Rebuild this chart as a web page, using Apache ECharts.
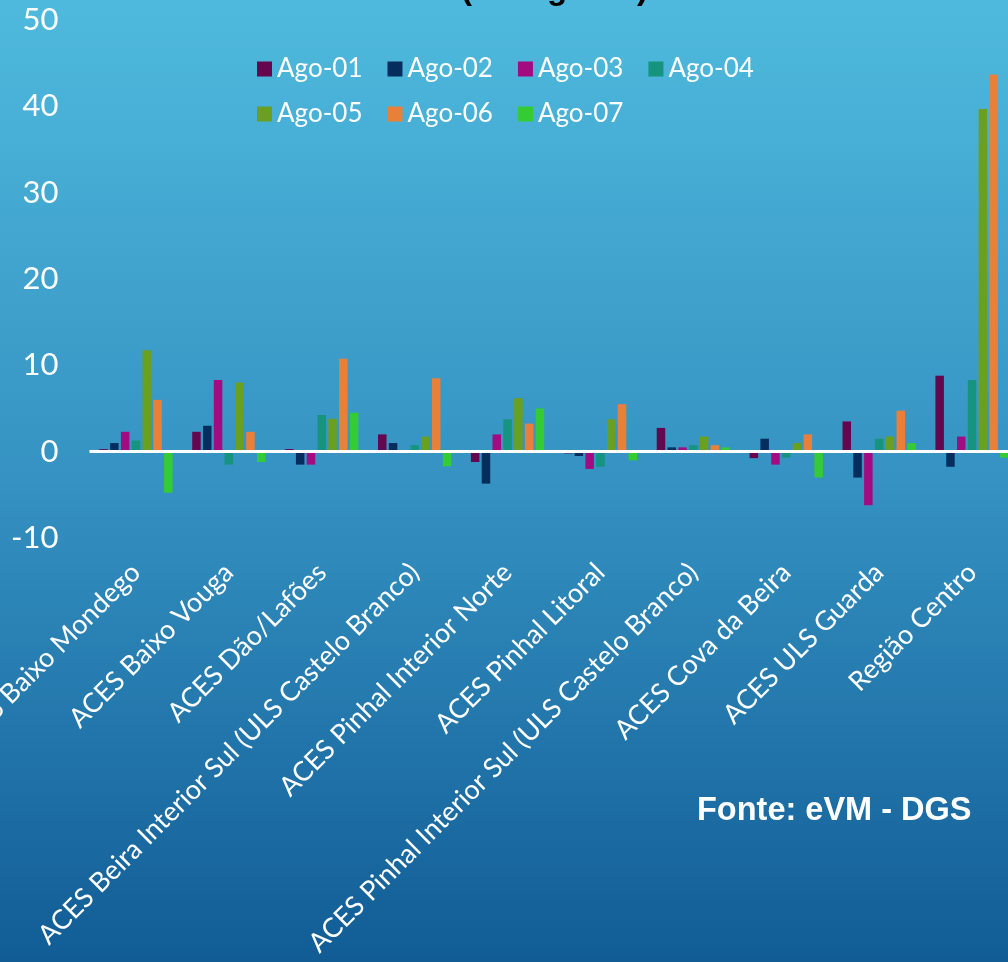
<!DOCTYPE html>
<html>
<head>
<meta charset="utf-8">
<script src="https://cdn.jsdelivr.net/npm/echarts@6/dist/echarts.min.js"></script>
<style>
html,body{margin:0;padding:0;width:1008px;height:962px;overflow:hidden;}
#chart{width:1008px;height:962px;}
</style>
</head>
<body>
<div id="chart"></div>
<script>
const categories = [
  "ACES Baixo Mondego",
  "ACES Baixo Vouga",
  "ACES Dão/Lafões",
  "ACES Beira Interior Sul (ULS Castelo Branco)",
  "ACES Pinhal Interior Norte",
  "ACES Pinhal Litoral",
  "ACES Pinhal Interior Sul (ULS Castelo Branco)",
  "ACES Cova da Beira",
  "ACES ULS Guarda",
  "Região Centro"
];
const seriesNames = ["Ago-01","Ago-02","Ago-03","Ago-04","Ago-05","Ago-06","Ago-07"];
const ago01 = [0.3, 2.3, 0.3, 2.0, -1.2, -0.2, 2.75, -0.75, 3.5, 8.8];
const ago02 = [1.0, 3.0, -1.5, 1.0, -3.7, -0.5, 0.5, 1.5, -3.0, -1.75];
const ago03 = [2.3, 8.3, -1.5, 0, 2.0, -2.0, 0.5, -1.5, -6.2, 1.75];
const ago04 = [1.3, -1.5, 4.25, 0.75, 3.75, -1.75, 0.75, -0.7, 1.5, 8.3];
const ago05 = [11.75, 8.0, 3.8, 1.75, 6.2, 3.75, 1.75, 1.0, 1.75, 39.7];
const ago06 = [6.0, 2.3, 10.75, 8.5, 3.25, 5.5, 0.75, 2.0, 4.75, 43.7];
const ago07 = [-4.75, -1.2, 4.5, -1.7, 5.0, -1.0, 0.5, -3.0, 1.0, -0.7];
const yTicks = [-10, 0, 10, 20, 30, 40, 50];
const colors = ["#65074f","#052e5f","#a30c80","#169480","#6a9f21","#e98039","#35cb34"];

const allData = [ago01, ago02, ago03, ago04, ago05, ago06, ago07];
const series = seriesNames.map((n, i) => {
  const s = {
    name: n,
    type: 'bar',
    data: allData[i],
    barWidth: 8.5,
    barGap: '27%',
    itemStyle: { color: colors[i] }
  };
  if (i === 0) {
    s.markLine = {
      silent: true,
      symbol: 'none',
      label: { show: false },
      lineStyle: { color: '#ffffff', width: 3, type: 'solid' },
      data: [{ yAxis: 0 }]
    };
  }
  return s;
});

const chart = echarts.init(document.getElementById('chart'));
const legendText = { color: '#ffffff', fontSize: 26, fontFamily: 'Lato' };
chart.setOption({
  animation: false,
  backgroundColor: {
    type: 'linear', x: 0, y: 0, x2: 0, y2: 1,
    colorStops: [
      { offset: 0, color: '#4fbadd' },
      { offset: 0.5, color: '#3592c2' },
      { offset: 1, color: '#115c95' }
    ]
  },
  color: colors,
  legend: [
    {
      data: seriesNames.slice(0, 4),
      left: 257, top: 56, padding: 0,
      itemWidth: 15, itemHeight: 15, itemGap: 25,
      icon: 'rect',
      textStyle: legendText
    },
    {
      data: seriesNames.slice(4),
      left: 257, top: 101, padding: 0,
      itemWidth: 15, itemHeight: 15, itemGap: 25,
      icon: 'rect',
      textStyle: legendText
    }
  ],
  grid: { left: 89.5, right: -10.5, top: 20, bottom: 424, containLabel: false, outerBoundsMode: 'none' },
  xAxis: {
    type: 'category',
    data: categories,
    axisLine: { show: false },
    axisTick: { show: false },
    axisLabel: {
      interval: 0,
      rotate: 45,
      margin: 30,
      color: '#ffffff',
      fontSize: 27,
      fontFamily: 'Lato'
    }
  },
  yAxis: {
    type: 'value',
    min: yTicks[0],
    max: yTicks[yTicks.length - 1],
    interval: 10,
    axisLine: { show: false },
    axisTick: { show: false },
    splitLine: { show: false },
    axisLabel: { color: '#ffffff', fontSize: 31, fontFamily: 'Lato', margin: 31 }
  },
  graphic: [
    {
      type: 'text', x: 559, y: -10,
      style: {
        text: '(1-7 agosto).',
        textAlign: 'center', textVerticalAlign: 'middle',
        fill: '#000000', font: 'bold 33px "Liberation Sans", Arial, sans-serif'
      }
    },
    {
      type: 'text', x: 697, y: 811,
      style: {
        text: 'Fonte: eVM - DGS',
        textAlign: 'left', textVerticalAlign: 'middle',
        fill: '#ffffff', font: 'bold 32.5px "Liberation Sans", Arial, sans-serif',
        shadowColor: 'rgba(0,0,0,0.5)', shadowBlur: 3
      }
    }
  ],
  series: series
});
</script>
</body>
</html>
